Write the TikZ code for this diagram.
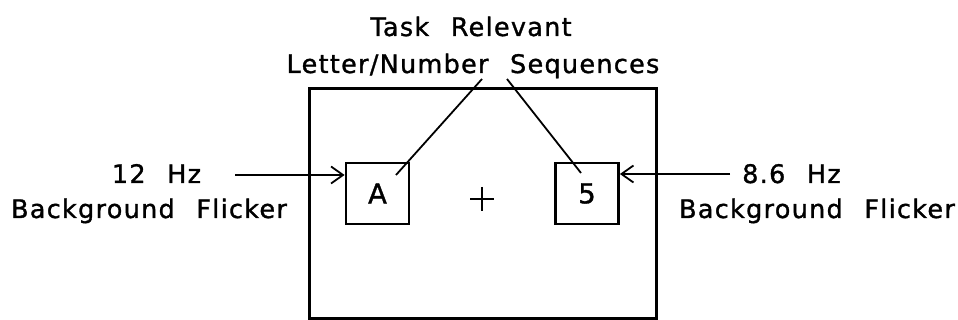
\documentclass[tikz,border=0pt]{standalone}
\usepackage{fontspec}
\setmainfont{DejaVu Sans}[LetterSpace=5,WordSpace=2.3,FakeBold=1.2]
\usetikzlibrary{arrows.meta}
\begin{document}
\begin{tikzpicture}[x=1pt,y=-1pt,
  lbl/.style={anchor=base,inner sep=0pt,font=\fontsize{25.5}{28}\selectfont},
  stim/.style={draw,line width=2.8pt,minimum width=63pt,minimum height=61pt,inner sep=0pt,font=\fontsize{27.5}{30}\selectfont},
  lead/.style={line width=1.8pt},
  flick/.style={line width=1.8pt,-{Straight Barb[length=12pt,width=17pt]}}]
\useasboundingbox (0,0) rectangle (958,320);
% display frame
\node[draw,line width=3pt,minimum width=347pt,minimum height=229pt,inner sep=0pt] (frame) at (482.5,203.5) {};
% stimulus boxes
\node[stim] (boxA) at (377.5,193.5) {A};
\node[stim] (box5) at (587,193.5) {5};
% fixation cross
\node[inner sep=0pt,minimum size=0pt] (fix) at (482,199) {};
\draw[line width=1.6pt] ([xshift=-12pt]fix.center) -- ([xshift=12pt]fix.center);
\draw[line width=1.6pt] ([yshift=12pt]fix.center) -- ([yshift=-12pt]fix.center);
% labels
\node[lbl] (task1) at (471,36) {Task Relevant};
\node[lbl] (task2) at (473,73) {Letter/Number Sequences};
\node[lbl] (lhz) at (156.5,183) {12 Hz};
\node[lbl] (lbg) at (149,218) {Background Flicker};
\node[lbl] (rhz) at (791.5,183) {8.6 Hz};
\node[lbl] (rbg) at (817,218) {Background Flicker};
% leader lines
\coordinate (la) at (482,79);
\coordinate (lb) at (507,79);
\coordinate (ina) at (396,175);
\coordinate (in5) at (581,173);
\draw[lead] (la) -- (ina);
\draw[lead] (lb) -- (in5);
% flicker arrows
\coordinate (lstart) at (235,175);
\coordinate (rstart) at (730,174);
\draw[flick] (lstart) -- (lstart -| boxA.west);
\draw[flick] (rstart) -- (rstart -| box5.east);
\end{tikzpicture}
\end{document}
